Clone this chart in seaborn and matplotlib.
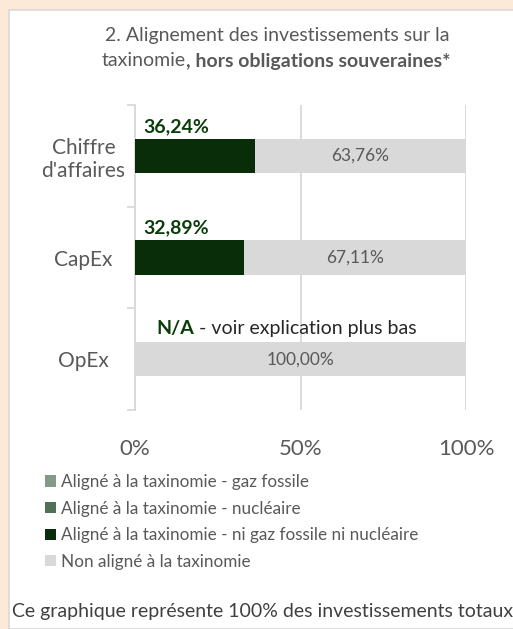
import matplotlib
matplotlib.use("Agg")
import matplotlib.pyplot as plt
import seaborn as sns
import pandas as pd
from matplotlib.patches import Rectangle

# data
categories = ["Chiffre\nd'affaires", "CapEx", "OpEx"]
gaz_fossile = [0.0, 0.0, 0.0]
nucleaire = [0.0, 0.0, 0.0]
ni_gaz_ni_nucl = [36.24, 32.89, 0.0]
non_aligne = [63.76, 67.11, 100.0]
dark_labels = ["36,24%", "32,89%", None]
gray_labels = ["63,76%", "67,11%", "100,00%"]
series_names = ["Aligné à la taxinomie - gaz fossile",
                "Aligné à la taxinomie - nucléaire",
                "Aligné à la taxinomie - ni gaz fossile ni nucléaire",
                "Non aligné à la taxinomie"]
colors = ["#7F9F80", "#4D7552", "#033303", "#D9D9D9"]

sns.set_style("white")
plt.rcParams['font.family'] = ['Lato', 'DejaVu Sans']

df = pd.DataFrame({"cat": categories, "gaz": gaz_fossile, "nuc": nucleaire,
                   "ni": ni_gaz_ni_nucl, "non": non_aligne})
df["c1"] = df["gaz"]
df["c2"] = df["c1"] + df["nuc"]
df["c3"] = df["c2"] + df["ni"]
df["c4"] = df["c3"] + df["non"]

W, H = 513, 629
fig = plt.figure(figsize=(W / 100, H / 100), dpi=100)
fig.patch.set_facecolor("#FCE9D8")
fig.patches.append(Rectangle((8.5 / W, 0), 1, 1 - 9.5 / H, transform=fig.transFigure,
                             facecolor="white", edgecolor="#D9D9D9", lw=1.2, zorder=-5))

ax = fig.add_axes([135 / W, 1 - 410 / H, (466 - 135) / W, (410 - 105) / H])
ax.set_zorder(2)
ax.set_facecolor("none")

for col, name, color in zip(["c4", "c3", "c2", "c1"], series_names[::-1], colors[::-1]):
    sns.barplot(data=df, x=col, y="cat", orient="h", color=color, width=0.34,
                label=name, ax=ax, zorder=3, linewidth=0)

ax.set_xlim(0, 100)
ax.set_ylim(2.5, -0.5)
ax.set_xticks([0, 50, 100])
ax.set_xticklabels(["0%", "50%", "100%"])
ax.set_xlabel("")
ax.set_ylabel("")
ax.grid(axis="x", color="#D9D9D9", lw=1.3, zorder=0)
ax.set_axisbelow(True)
for s in ["top", "right", "bottom"]:
    ax.spines[s].set_visible(False)
ax.spines["left"].set_color("#D9D9D9")
ax.spines["left"].set_linewidth(1.3)
ax.tick_params(axis="x", length=0, pad=21, labelsize=16, labelcolor="#595959")
ax.tick_params(axis="y", length=0, pad=37, labelsize=15, labelcolor="#595959")
for lab in ax.get_yticklabels():
    lab.set_horizontalalignment("center")
    lab.set_multialignment("center")
ax.set_yticks([-0.5, 0.5, 1.5, 2.5], minor=True)
ax.tick_params(axis="y", which="minor", length=6, color="#D9D9D9", width=1.3, left=True)

# value labels
for i in range(len(categories)):
    gx = df["c3"][i] + df["non"][i] / 2
    ax.text(gx, i, gray_labels[i], ha="center", va="center", fontsize=12.5,
            color="#595959", zorder=5)
    if dark_labels[i]:
        ax.text(2.5, i - 0.29, dark_labels[i], ha="left", va="center", fontsize=14,
                fontweight="bold", color="#0B3D0B", zorder=5)

fig.canvas.draw()
r = fig.canvas.get_renderer()

# N/A label
na = ax.text(6.5, 2 - 0.3, "N/A", ha="left", va="center", fontsize=14,
             fontweight="bold", color="#0B3D0B", zorder=5)
bb = na.get_window_extent(r)
ax.annotate(" - voir explication plus bas", xy=(bb.x1, bb.y0 + bb.height / 2),
            xycoords="figure pixels", ha="left", va="center", fontsize=14,
            color="#262626", zorder=5)

# title
fig.text(277 / W, 1 - 36 / H, "2. Alignement des investissements sur la",
         ha="center", va="center", fontsize=14, color="#595959")
t1 = fig.text(0, 1 - 61 / H, "taxinomie", ha="left", va="center",
              fontsize=14, color="#595959")
t2 = fig.text(0, 1 - 61 / H, ", hors obligations souveraines*", ha="left", va="center",
              fontsize=14, fontweight="bold", color="#595959")
w1 = t1.get_window_extent(r).width
w2 = t2.get_window_extent(r).width
x0 = 276 - (w1 + w2) / 2
t1.set_x(x0 / W)
t2.set_x((x0 + w1) / W)

# legend
h, l = ax.get_legend_handles_labels()
order = [l.index(n) for n in series_names]
if ax.get_legend():
    ax.get_legend().remove()
fig.legend([h[k] for k in order], [l[k] for k in order], loc="upper left",
           bbox_to_anchor=(45 / W, 1 - 474 / H), frameon=False, fontsize=12.3,
           labelcolor="#595959", handlelength=0.62, handleheight=0.62,
           handletextpad=0.3, labelspacing=0.62, borderpad=0, borderaxespad=0)

fig.text(12 / W, 1 - 612 / H, "Ce graphique représente 100% des investissements totaux",
         ha="left", va="center", fontsize=14, color="#404040")

fig.savefig("out.png", dpi=100, facecolor=fig.get_facecolor())
